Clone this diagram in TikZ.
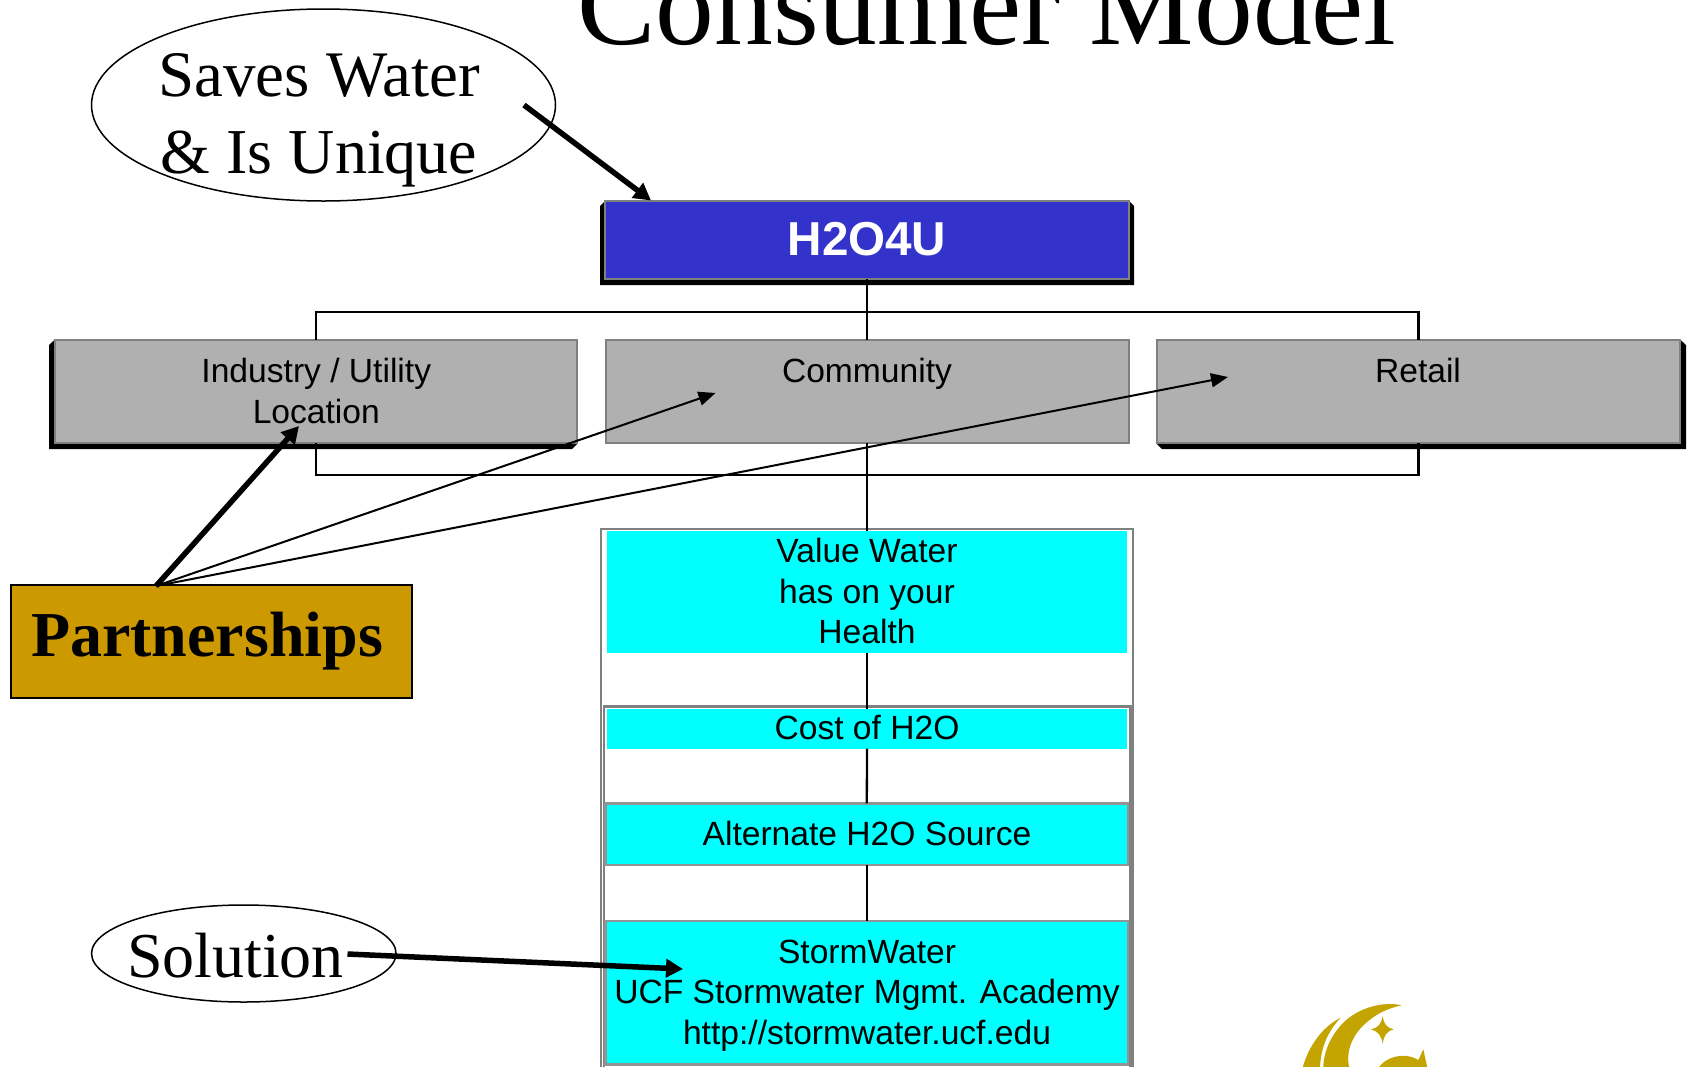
\documentclass[tikz,border=0pt]{standalone}
\usepackage{fontspec}
\setmainfont{Liberation Serif}
\newfontfamily\arialf{Liberation Sans}
\usetikzlibrary{arrows.meta,shapes.geometric}
\definecolor{edgegray}{HTML}{808080}
\definecolor{panelgray}{HTML}{B0B0B0}
\definecolor{royal}{HTML}{3333CC}
\definecolor{aqua}{HTML}{00FFFF}
\definecolor{ochre}{HTML}{CC9900}
\definecolor{ucfgold}{HTML}{C4A400}
\tikzset{
  x=1pt,y=-1pt,
  boxbase/.style={rectangle,inner sep=0pt,outer sep=0pt},
  graybox/.style={boxbase,draw=edgegray,line width=2pt,fill=panelgray},
  cyanbox/.style={boxbase,draw=edgegray!85,line width=2.6pt,fill=aqua},
  cyanplain/.style={boxbase,fill=aqua},
  sidetext/.style={anchor=base,align=center,font=\arialf\fontsize{33.6}{40.5}\selectfont},
  serifbig/.style={anchor=base,align=center,font=\fontsize{64}{77.5}\selectfont},
  linkline/.style={draw=black,line width=2.3pt},
  shadowpoly/.style={fill=black,draw=none},
  bubble/.style={ellipse,draw=black,line width=1.5pt,inner sep=0pt,outer sep=0pt},
  thickarrow/.style={draw=black,line width=5.5pt,-{Triangle[length=17pt,width=18pt]}},
  thinarrow/.style={draw=black,line width=2pt,-{Triangle[length=17pt,width=14pt]}},
  frameline/.style={draw=edgegray,line width=2.5pt}
}
\begin{document}
\begin{tikzpicture}
\clip (0,0) rectangle (1690,1066);
% title
\node[anchor=base,font=\fontsize{117.5}{120}\selectfont] (title) at (987,44) {Consumer Model};
% frames behind the cyan column
\draw[frameline] (601.2,529.2) rectangle (1132.8,1075);
\draw[frameline] (604,706.3) rectangle (1130.6,1075);
% shadows
\fill[shadowpoly] (605,201)--(600,206)--(600,285)--(1134,285)--(1134,206)--(1129,201)--cycle;
\fill[shadowpoly] (55,339.5)--(49,345)--(49,449)--(572,449)--(577.6,443.5)--cycle;
\fill[shadowpoly] (1680,339.5)--(1686,345)--(1686,449)--(1162,449)--(1156.4,443.5)--cycle;
% boxes
\node[boxbase,draw=edgegray,line width=2pt,fill=royal,minimum width=523.4pt,minimum height=78pt] (top) at (867,240.2) {};
\node[graybox,minimum width=521.6pt,minimum height=103.4pt] (industry) at (316.1,391.3) {};
\node[graybox,minimum width=523pt,minimum height=103.4pt] (community) at (867,391.3) {};
\node[graybox,minimum width=522.6pt,minimum height=103.4pt] (retail) at (1418.4,391.3) {};
\node[cyanplain,minimum width=520pt,minimum height=121.7pt] (value) at (867,591.85) {};
\node[cyanplain,minimum width=520pt,minimum height=40.1pt] (cost) at (867,728.55) {};
\node[cyanbox,minimum width=522.4pt,minimum height=61.6pt] (alternate) at (866.8,834.2) {};
\node[cyanbox,minimum width=522.4pt,minimum height=143.7pt] (storm) at (866.8,992.65) {};
% tree connectors
\coordinate (brT) at (867,312);
\coordinate (brB) at (867,475);
\draw[linkline] (top.south) -- (community.north);
\draw[linkline] (industry.north) |- (brT) -| (retail.north);
\draw[linkline] (community.south) -- (value.north);
\draw[linkline] (industry.south) |- (brB) -| (retail.south);
\draw[linkline] (value.south) -- (cost.north);
\draw[linkline] (cost.south) -- (alternate.north);
\draw[linkline] (alternate.south) -- (storm.north);
% box labels
\node[anchor=base,text=white,font=\arialf\bfseries\fontsize{47.6}{50}\selectfont] (toplabel) at (867,255.8) {H2O4U};
\node[sidetext] (industrylabel) at (316.3,423.3) {Industry / Utility\\Location};
\node[sidetext] (communitylabel) at (867,382.5) {Community};
\node[sidetext] (retaillabel) at (1418,382.5) {Retail};
\node[sidetext] (valuelabel) at (867,643.5) {Value Water\\has on your\\Health};
\node[sidetext] (costlabel) at (867,739) {Cost of H2O};
\node[sidetext] (altlabel) at (867,845) {Alternate H2O Source};
\node[sidetext] (stormlabel) at (867,1044.4) {StormWater\\UCF Stormwater Mgmt. Academy\\http://stormwater.ucf.edu};
% callouts
\node[bubble,minimum width=464pt,minimum height=192pt] (saves) at (323.5,105) {};
\node[serifbig] (saveslabel) at (319,173.5) {{\fontsize{65}{77.5}\selectfont Saves Water}\\\& Is Unique};
\node[bubble,minimum width=304.5pt,minimum height=97pt] (solution) at (243.8,953.5) {};
\node[serifbig] (solutionlabel) at (235.5,977) {Solution};
\node[boxbase,draw=black,line width=2pt,fill=ochre,minimum width=400.4pt,minimum height=112.4pt] (partner) at (211.4,641.5) {};
\node[anchor=base,font=\bfseries\fontsize{64}{70}\selectfont] (partnerlabel) at (207,656) {Partnerships};
% callout arrows
\coordinate (savesout) at (524,105);
\coordinate (topin) at (651,200.5);
\coordinate (solout) at (347.5,954);
\coordinate (stormin) at (683,969);
\coordinate (partout) at (156,586);
\coordinate (indin) at (299,426);
\coordinate (comin) at (715.5,393);
\coordinate (retin) at (1228,377);
\draw[thickarrow] (savesout) -- (topin);
\draw[thickarrow] (solout) -- (stormin);
\draw[thickarrow] (partout) -- (indin);
\draw[thinarrow] (partout) -- (comin);
\draw[thinarrow] (partout) -- (retin);
% logo
\begin{scope}[shift={(1290,996)},x=0.3333pt,y=-0.3333pt,fill=ucfgold]
\fill (335,28) .. controls (280,15) and (205,35) .. (160,80)
  .. controls (125,115) and (100,165) .. (100,215)
  -- (178,215) .. controls (165,165) and (190,110) .. (235,75)
  .. controls (265,50) and (300,35) .. (335,28) -- cycle;
\fill (152,65) .. controls (100,90) and (55,150) .. (38,215)
  -- (90,215) .. controls (92,160) and (110,110) .. (152,65) -- cycle;
\fill (278,60) .. controls (282,85) and (290,95) .. (311,100)
  .. controls (290,106) and (282,118) .. (278,143)
  .. controls (274,118) and (264,106) .. (243,100)
  .. controls (264,95) and (274,85) .. (278,60) -- cycle;
\fill (266,215) .. controls (285,185) and (340,165) .. (385,192)
  -- (400,160) -- (412,215) -- cycle;
\end{scope}
\end{tikzpicture}
\end{document}
